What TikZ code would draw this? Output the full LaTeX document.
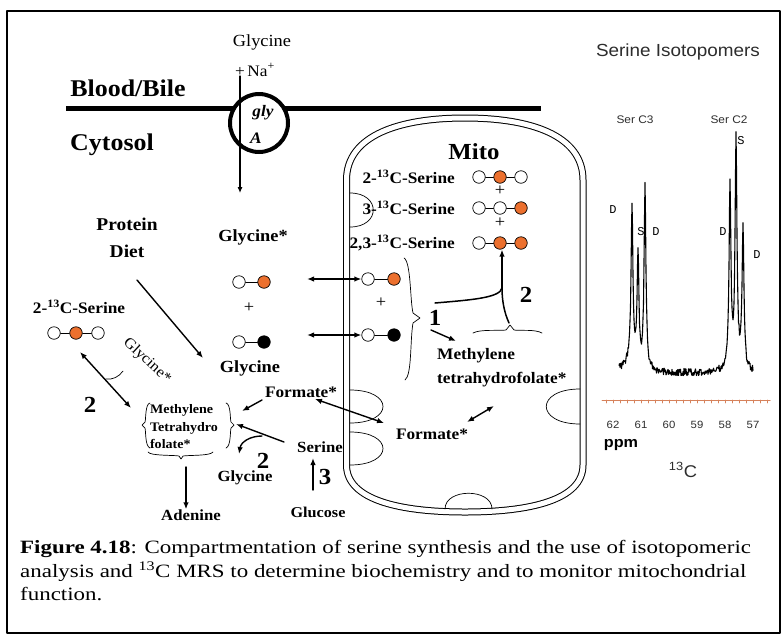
\documentclass[tikz,border=0pt]{standalone}
\usepackage{fontspec}
\setmainfont[FakeStretch=1.08]{Liberation Serif}
\setsansfont[FakeStretch=1.08]{Liberation Sans}
\setmonofont{Liberation Mono}
\newfontfamily\capfont[FakeStretch=1.22]{Liberation Serif}
\usetikzlibrary{arrows.meta}

\definecolor{isoorange}{RGB}{236,112,46}
\definecolor{axisorange}{RGB}{214,130,92}
\definecolor{specgray}{RGB}{45,45,45}
\newcommand{\txtsize}[2]{\fontsize{#1}{#2}\selectfont}

\begin{document}
\begin{tikzpicture}[x=1pt, y=-1pt, line cap=round, line join=round,
    lab/.style={font=\bfseries\txtsize{16}{19}, inner sep=0pt},
    num/.style={font=\bfseries\txtsize{23}{26}, inner sep=0pt},
    plus/.style={font=\txtsize{17}{19}, inner sep=0pt},
    carb/.style={circle, draw, line width=0.7pt, minimum size=12.5pt, inner sep=0pt, fill=white},
    carbiso/.style={carb, fill=isoorange},
    carbdark/.style={carb, fill=black},
    arr/.style={-{Latex[length=7pt,width=5.5pt]}, line width=1.4pt},
    darr/.style={{Latex[length=7pt,width=5.5pt]}-{Latex[length=7pt,width=5.5pt]}, line width=1.4pt},
    brc/.style={line width=0.7pt},
    spec/.style={font=\sffamily, inner sep=0pt, text=specgray},
    peaklab/.style={font=\ttfamily\txtsize{12}{14}, inner sep=0pt},
    captext/.style={font=\capfont\txtsize{18.8}{22}, inner sep=0pt, anchor=base west}]

\useasboundingbox (0,0) rectangle (784,635);
\draw[line width=1.2pt] (7,11) rectangle (780,633);

% membrane and glyA transporter
\draw[line width=5pt, line cap=butt] (66,108) -- (541,108);
\node[circle, draw, line width=4pt, fill=white, minimum size=58pt, inner sep=0pt] (glyA) at (259,123) {};
\node[font=\bfseries\itshape\txtsize{16}{18}, inner sep=0pt] (glyname) at (263,113) {gly};
\node[font=\bfseries\itshape\txtsize{16}{18}, inner sep=0pt] (glyletter) at (256,138) {A};
\node[font=\bfseries\txtsize{24}{28}, inner sep=0pt] (blood) at (128,88) {Blood/Bile};
\node[font=\bfseries\txtsize{24}{28}, inner sep=0pt] (cyto) at (112,145) {Cytosol};
\node[font=\txtsize{17}{19}, inner sep=0pt] (glyout) at (262,42) {Glycine};
\node[font=\txtsize{16}{18}, inner sep=0pt] (naion) at (255,70) {+\,Na\textsuperscript{+}};
\coordinate (gIn) at (240,76);
\coordinate (gOut) at (240,193);
\draw[-{Latex[length=6pt,width=5pt]}, line width=1.1pt] (gIn) -- (gOut);

% mitochondrion
\draw[double, double distance=5pt, line width=1pt]
  (346.5,180) .. controls (346.5,135) and (400,118) .. (465,118)
  .. controls (530,118) and (583,135) .. (583,180) -- (583,465)
  .. controls (583,500) and (530,512) .. (465,512)
  .. controls (400,512) and (346.5,500) .. (346.5,465) -- cycle;
\draw[brc] (350,193) .. controls (381,193) and (381,227) .. (350,227);
\draw[brc] (350,390) .. controls (394,390) and (394,423) .. (350,423);
\draw[brc] (350,432) .. controls (394,432) and (394,465) .. (350,465);
\draw[brc] (580,389) .. controls (535,389) and (535,424) .. (580,424);
\draw[brc] (445,509) .. controls (445,488) and (492,488) .. (492,509);
\node[font=\bfseries\txtsize{23}{26}, inner sep=0pt] (mito) at (474,152) {Mito};

% serine isotopomers in the matrix
\node[lab, anchor=east] (ser2) at (455,177) {2-\textsuperscript{13}C-Serine};
\node[carb] (sa1) at (479,177) {};
\node[carbiso] (sa2) at (500,177) {};
\node[carb] (sa3) at (521,177) {};
\draw[line width=0.7pt] (sa1) -- (sa2) -- (sa3);
\node[plus] (pa) at (500,191) {+};
\node[lab, anchor=east] (ser3) at (455,208) {3-\textsuperscript{13}C-Serine};
\node[carb] (sb1) at (479,208) {};
\node[carb] (sb2) at (500,208) {};
\node[carbiso] (sb3) at (521,208) {};
\draw[line width=0.7pt] (sb1) -- (sb2) -- (sb3);
\node[plus] (pb) at (500,223) {+};
\node[lab, anchor=east] (ser23) at (455,243) {2,3-\textsuperscript{13}C-Serine};
\node[carb] (sc1) at (479,243) {};
\node[carbiso] (sc2) at (500,243) {};
\node[carbiso] (sc3) at (521,243) {};
\draw[line width=0.7pt] (sc1) -- (sc2) -- (sc3);

% glycine pairs, matrix side
\node[carb] (mg1) at (368,279) {};
\node[carbiso] (mg2) at (394,279) {};
\draw[line width=0.7pt] (mg1) -- (mg2);
\node[plus] (pm) at (381,303) {+};
\node[carb] (mh1) at (368,335) {};
\node[carbdark] (mh2) at (394,335) {};
\draw[line width=0.7pt] (mh1) -- (mh2);
\draw[brc] (404,258) .. controls (411,262) and (410,300) .. (413,313) -- (420,318) -- (413,323)
  .. controls (410,340) and (412,375) .. (405,380);
\node[num] (one) at (435,318) {1};
\coordinate (oneA) at (431,330);
\coordinate (oneB) at (456,341);
\draw[arr] (oneA) -- (oneB);
\node[lab, align=left, anchor=west, font=\bfseries\txtsize{16}{24}] (mthf) at (437,368) {Methylene\\tetrahydrofolate*};

% route 2 back to doubly labelled serine
\coordinate (jn) at (502,288);
\coordinate (cA) at (435,303);
\coordinate (cB) at (509,323);
\draw[line width=1.5pt] (cA) .. controls (470,300) and (500,298) .. (jn);
\draw[line width=1.5pt] (cB) .. controls (504,312) and (502,300) .. (jn);
\draw[arr] (jn) -- (sc2.south -| jn);
\draw[brc] (473,333) .. controls (480,329) and (500,331) .. (506,330) -- (510,325) -- (514,330)
  .. controls (520,331) and (535,329) .. (542,333);
\node[num] (two) at (526,295) {2};

% matrix formate
\node[lab] (formm) at (432,434) {Formate*};
\coordinate (fmA) at (467,422);
\coordinate (fmB) at (494,406);
\draw[darr] (fmA) -- (fmB);

% cytosolic glycine pool
\node[font=\bfseries\txtsize{17}{20}, inner sep=0pt] (glystar) at (253,237) {Glycine*};
\node[carb] (cg1) at (239,282) {};
\node[carbiso] (cg2) at (264,282) {};
\draw[line width=0.7pt] (cg1) -- (cg2);
\node[plus] (pc) at (249,308) {+};
\node[carb] (ch1) at (239,342) {};
\node[carbdark] (ch2) at (264,342) {};
\draw[line width=0.7pt] (ch1) -- (ch2);
\node[font=\bfseries\txtsize{17}{20}, inner sep=0pt] (glyc) at (250,368) {Glycine};
\coordinate (exA) at (307,279);
\coordinate (exB) at (307,335);
\draw[darr] (exA) -- (mg1.west |- exA);
\draw[darr] (exB) -- (mh1.west);

% diet and serine pool
\node[font=\bfseries\txtsize{18}{27}, inner sep=0pt, align=center] (diet) at (127,238) {Protein\\Diet};
\coordinate (dA) at (137,280);
\coordinate (dB) at (203,358);
\draw[arr] (dA) -- (dB);
\node[lab] (ser2c) at (79,307) {2-\textsuperscript{13}C-Serine};
\node[carb] (sl1) at (54,333) {};
\node[carbiso] (sl2) at (76,333) {};
\node[carb] (sl3) at (98,333) {};
\draw[line width=0.7pt] (sl1) -- (sl2) -- (sl3);
\coordinate (lA) at (80,352);
\coordinate (lB) at (131,408);
\draw[darr] (lA) -- (lB);
\node[font=\txtsize{15}{17}, inner sep=0pt, rotate=-43] (glyrot) at (147,361) {Glycine*};
\draw[brc] (123,371) .. controls (119,377) and (112,380) .. (106,379);
\node[num] (twoL) at (90,405) {2};

% cytosolic methylene THF
\node[font=\bfseries\txtsize{13}{17.5}, inner sep=0pt, align=left] (cmthf) at (184,427) {Methylene\\Tetrahydro\\folate*};
\draw[brc] (150,403) .. controls (145,404) and (146,420) .. (145,422) -- (142,425) -- (145,428)
  .. controls (146,432) and (145,446) .. (150,448);
\draw[brc] (226,403) .. controls (231,404) and (230,420) .. (231,422) -- (234,425) -- (231,428)
  .. controls (230,432) and (231,446) .. (226,448);
\draw[brc] (148,452) .. controls (150,456) and (175,455) .. (179,456) -- (181,459) -- (183,456)
  .. controls (190,455) and (210,456) .. (213,452);
\node[lab] (formc) at (301,392) {Formate*};
\coordinate (fcA) at (262,400);
\coordinate (fcB) at (242,411);
\draw[arr] (fcA) -- (fcB);
\coordinate (ftA) at (315,399);
\coordinate (ftB) at (384,423);
\draw[darr] (ftA) -- (ftB);
\node[font=\bfseries\txtsize{15.5}{18}, inner sep=0pt] (serc) at (320,447) {Serine};
\coordinate (scA) at (284,442);
\coordinate (scB) at (236,424);
\draw[arr] (scA) -- (scB);
\coordinate (gcA) at (262,436);
\coordinate (gcB) at (239,454);
\draw[arr] (gcA) .. controls (250,436) and (241,442) .. (gcB);
\node[num] (twoC) at (263,461) {2};
\node[font=\bfseries\txtsize{15.5}{18}, inner sep=0pt] (glyb) at (245,478) {Glycine};
\node[font=\bfseries\txtsize{15}{18}, inner sep=0pt] (gluc) at (318,512) {Glucose};
\coordinate (glA) at (313,490);
\coordinate (glB) at (313,458);
\draw[arr] (glA) -- (glB);
\node[num] (three) at (325,477) {3};
\node[font=\bfseries\txtsize{15.5}{18}, inner sep=0pt] (aden) at (191,515) {Adenine};
\coordinate (adA) at (186,467);
\draw[arr] (adA) -- (aden.north -| adA);

% 13C spectrum
\node[spec, font=\sffamily\txtsize{17.5}{20}] (title) at (678,52) {Serine Isotopomers};
\node[spec, font=\sffamily\txtsize{11}{13}] (c3) at (635,120) {Ser C3};
\node[spec, font=\sffamily\txtsize{11}{13}] (c2) at (729,120) {Ser C2};
\pgfmathsetseed{17}
\draw[line width=1.1pt] plot[domain=619:753, samples=269, variable=\t]
  (\t, {373 - 157/(1+((\t-632)/1.1)^2) - 110/(1+((\t-638)/1.1)^2) - 183/(1+((\t-645)/1.1)^2)
        - 180/(1+((\t-730)/1.1)^2) - 221/(1+((\t-736)/1.1)^2) - 138/(1+((\t-743)/1.1)^2)
        - 9/(1+((\t-630)/9)^2) - 8/(1+((\t-736)/7)^2) + 3.6*rand});
\node[peaklab] (d1) at (613,210) {D};
\node[peaklab] (s1) at (641,232) {S};
\node[peaklab] (d2) at (656,232) {D};
\node[peaklab] (d3) at (723,232) {D};
\node[peaklab] (s2) at (741,141) {S};
\node[peaklab] (d4) at (757,255) {D};
\draw[axisorange, line width=1pt] (602,400) -- (770,400);
\foreach \k in {0,...,23}
  \draw[axisorange, line width=0.6pt] ({606+7*\k},400) -- ++(0,3);
\foreach \v [count=\i from 0] in {62,61,60,59,58,57}
  \node[spec, font=\sffamily\txtsize{10.5}{12}] at ({613+28*\i},425) {\v};
\node[spec, font=\sffamily\bfseries\txtsize{15}{17}, text=black] (ppm) at (621,445) {ppm};
\node[spec, font=\sffamily\txtsize{17}{19}] (nuc) at (683,470) {\textsuperscript{13}C};

% caption
\node[captext] (cap1) at (20,553) {\textbf{Figure 4.18}: Compartmentation of serine synthesis and the use of isotopomeric};
\node[captext] (cap2) at (20,577) {analysis and \textsuperscript{13}C MRS to determine biochemistry and to monitor mitochondrial};
\node[captext] (cap3) at (20,600) {function.};
\end{tikzpicture}
\end{document}
